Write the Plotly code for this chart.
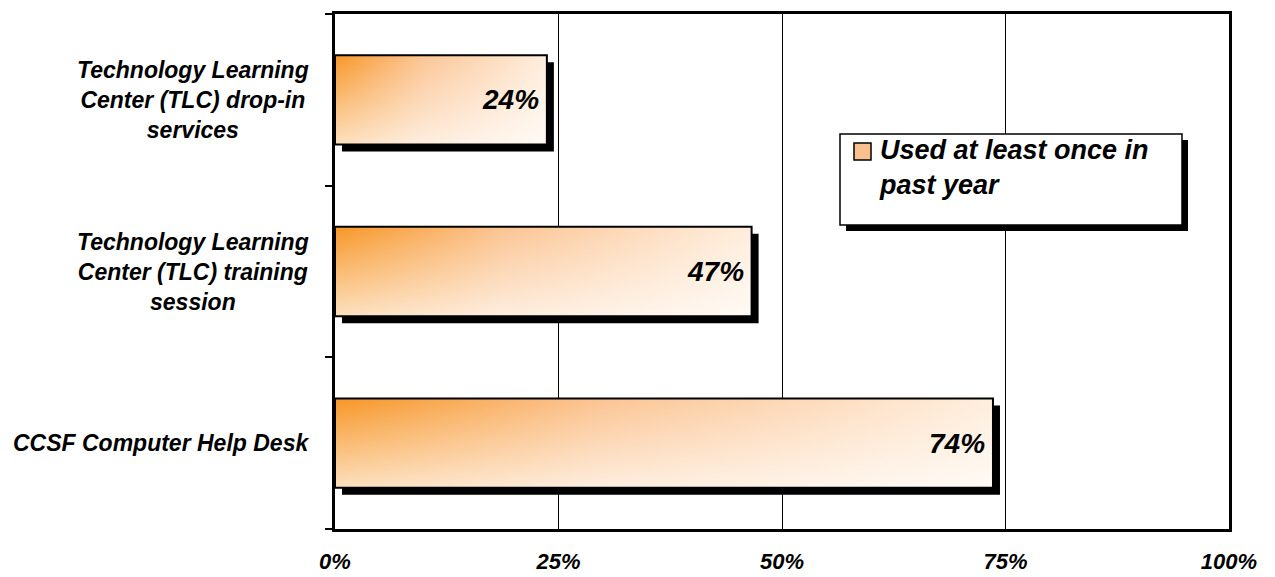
import plotly.graph_objects as go

# ---------------- data ----------------
categories = [
    "CCSF Computer Help Desk",
    "Technology Learning<br>Center (TLC) training<br>session",
    "Technology Learning<br>Center (TLC) drop-in<br>services",
]
values = [73.6, 46.6, 23.7]          # percent, used at least once in past year
series_name = "Used at least once in<br>past year"
x_tick_vals = [0, 25, 50, 75, 100]
x_tick_text = ["0%", "25%", "50%", "75%", "100%"]

# ---------------- layout constants ----------------
W, H = 1275, 577
ML, MR, MT, MB = 335, 46, 14, 48
PW = W - ML - MR
PH = H - MT - MB
XR = [0, 100]
YR = [-0.5, len(categories) - 0.5]
BAR_H = 0.52
SHADOW_PX = 7
dx = SHADOW_PX * (XR[1] - XR[0]) / PW
dy = SHADOW_PX * (YR[1] - YR[0]) / PH

FONT = "Liberation Sans, Arial, sans-serif"


def bi(size):
    return dict(family=FONT, size=size, color="black", weight="bold", style="italic")


def px2x(p):
    return (p - ML) / PW


def py2y(p):
    return 1 - (p - MT) / PH


fig = go.Figure()

for i, v in enumerate(values):
    c = i
    h = BAR_H / 2
    # drop shadow
    fig.add_trace(go.Scatter(
        x=[dx, v + dx, v + dx, dx, dx],
        y=[c - h - dy, c - h - dy, c + h - dy, c + h - dy, c - h - dy],
        mode="lines", fill="toself", fillcolor="black",
        line=dict(width=0, color="black"),
        hoverinfo="skip", showlegend=False,
    ))
    # horizontal gradient body
    fig.add_trace(go.Scatter(
        x=[0, v, v, 0, 0],
        y=[c - h, c - h, c + h, c + h, c - h],
        mode="lines", fill="toself",
        fillgradient=dict(type="horizontal",
                          colorscale=[[0, "rgb(247,150,38)"],
                                      [0.4, "rgb(251,196,146)"],
                                      [1, "rgb(255,238,222)"]]),
        line=dict(width=0, color="rgba(0,0,0,0)"),
        hoverinfo="skip", showlegend=False,
    ))
    # vertical whitening overlay + outline
    fig.add_trace(go.Scatter(
        x=[0, v, v, 0, 0],
        y=[c - h, c - h, c + h, c + h, c - h],
        mode="lines", fill="toself",
        fillgradient=dict(type="vertical",
                          colorscale=[[0, "rgba(255,255,255,0.7)"],
                                      [1, "rgba(255,255,255,0)"]]),
        line=dict(width=2, color="black"),
        hoverinfo="skip", showlegend=False,
    ))

annotations = []
for i, v in enumerate(values):
    annotations.append(dict(
        x=v, y=i, xref="x", yref="y", xanchor="right", yanchor="middle",
        xshift=-6, text=f"{round(v)}%", showarrow=False, font=bi(28),
    ))
for i, cat in enumerate(categories):
    annotations.append(dict(
        x=0, y=i, xref="paper", yref="y", xanchor="right", yanchor="middle",
        xshift=-24, text=cat, align="center", showarrow=False, font=bi(23),
    ))
# legend text
annotations.append(dict(
    x=px2x(877), y=py2y(167), xref="paper", yref="paper",
    xanchor="left", yanchor="middle", align="left",
    text=series_name, showarrow=False, font=bi(27),
))

shapes = [
    # legend shadow
    dict(type="rect", xref="paper", yref="paper",
         x0=px2x(846), x1=px2x(1188), y0=py2y(140), y1=py2y(231),
         fillcolor="black", line=dict(width=0)),
    # legend box
    dict(type="rect", xref="paper", yref="paper",
         x0=px2x(840), x1=px2x(1182), y0=py2y(134), y1=py2y(225),
         fillcolor="white", line=dict(width=1.5, color="black")),
    # legend symbol
    dict(type="rect", xref="paper", yref="paper",
         x0=px2x(854), x1=px2x(871), y0=py2y(143), y1=py2y(160),
         fillcolor="rgb(250,192,142)", line=dict(width=1.5, color="black")),
]

fig.update_layout(
    width=W, height=H,
    margin=dict(l=ML, r=MR, t=MT, b=MB, pad=0, autoexpand=False),
    paper_bgcolor="white", plot_bgcolor="white",
    showlegend=False,
    annotations=annotations,
    shapes=shapes,
    xaxis=dict(
        range=XR, tickvals=x_tick_vals, ticktext=x_tick_text,
        showgrid=True, gridcolor="black", gridwidth=1,
        showline=True, mirror=True, linecolor="black", linewidth=3,
        ticks="", tickfont=bi(22), ticklabelstandoff=11,
        zeroline=False, fixedrange=True, automargin=False,
    ),
    yaxis=dict(
        range=YR, tickvals=[-0.5, 0.5, 1.5, 2.5],
        showticklabels=False, ticks="outside", ticklen=7,
        tickcolor="black", tickwidth=1.5,
        showgrid=False, zeroline=False,
        showline=True, mirror=True, linecolor="black", linewidth=3,
        fixedrange=True, automargin=False,
    ),
)

fig.write_html("out.html")
